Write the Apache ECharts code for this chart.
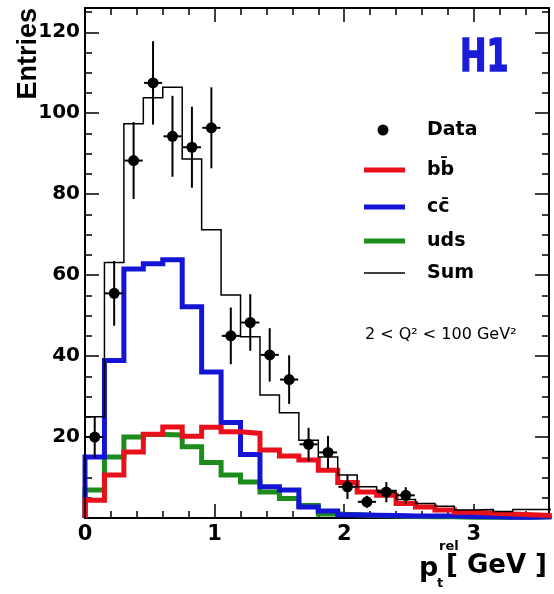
<!DOCTYPE html>
<html lang="en">
<head>
    <meta charset="UTF-8">
    <title>H1 pt rel</title>
    <style>
        html, body { margin: 0; padding: 0; background: #fff; }
        #main { width: 554px; height: 594px; }
    </style>
</head>
<body>
<div id="main"></div>
<script src="https://cdn.jsdelivr.net/npm/echarts@6/dist/echarts.min.js"></script>
<script type="text/javascript">
    // bins of 0.15 GeV starting at 0
    var binWidth = 0.15;
    var bbValues  = [4.4, 10.6, 16.3, 20.7, 22.5, 20.2, 22.4, 21.3, 20.9, 16.8, 15.3, 14.3, 11.8, 8.8, 6.4, 5.6, 3.6, 2.7, 2.0, 1.4, 1.2, 1.0, 0.8, 0.6];
    var ccValues  = [15.1, 38.9, 61.5, 62.8, 63.8, 52.2, 36.1, 23.6, 15.7, 7.7, 6.9, 2.7, 1.7, 0.8, 0.7, 0.6, 0.5, 0.5, 0.5, 0.4, 0.3, 0.2, 0.2, 0.3];
    var udsValues = [6.9, 15.1, 20.0, 20.6, 20.5, 17.6, 13.7, 10.6, 8.9, 6.4, 4.8, 3.1, 1.0, 0.8, 0.6, 0.5, 0.4, 0.3, 0.3, 0.2, 0.2, 0.2, 0.2, 0.3];
    var sumValues = [25.0, 63.1, 97.4, 103.8, 106.4, 88.7, 71.2, 55.1, 44.8, 30.4, 26.0, 19.2, 15.1, 10.6, 7.7, 6.8, 4.6, 3.6, 2.9, 2.0, 2.1, 1.6, 2.1, 2.1];
    var dataValues = [20.0, 55.5, 88.3, 107.5, 94.3, 91.6, 96.4, 45.0, 48.3, 40.3, 34.2, 18.2, 16.2, 7.7, 4.0, 6.4, 5.6];
    var dataErrors = [5.0, 8.0, 9.5, 10.3, 10.0, 10.0, 10.0, 7.0, 7.0, 6.6, 6.0, 4.1, 4.1, 3.0, 1.5, 2.5, 2.0];
    var xTickLabels = ['0', '1', '2', '3'];
    var yTickLabels = ['20', '40', '60', '80', '100', '120'];

    var RED = '#e8101a', BLUE = '#1414d4', GREEN = '#1c8c1c';
    var FONT = 'DejaVu Sans';

    // step line needs the left edges plus a closing point
    function histo(vals) {
        var out = [[0, 0]];
        for (var i = 0; i < vals.length; i++) {
            out.push([i * binWidth, vals[i]]);
        }
        out.push([vals.length * binWidth, vals[vals.length - 1]]);
        return out;
    }

    var points = [];
    for (var i = 0; i < dataValues.length; i++) {
        points.push([(i + 0.5) * binWidth, dataValues[i], dataErrors[i]]);
    }

    function renderPoint(params, api) {
        var x = api.value(0), y = api.value(1), e = api.value(2);
        var c = api.coord([x, y]);
        var top = api.coord([x, y + e]);
        var bot = api.coord([x, Math.max(0, y - e)]);
        var l = api.coord([x - 0.07, y]);
        var r = api.coord([x + 0.07, y]);
        var st = {stroke: '#000', lineWidth: 2};
        return {
            type: 'group',
            children: [
                {type: 'line', shape: {x1: c[0], y1: top[1], x2: c[0], y2: bot[1]}, style: st},
                {type: 'line', shape: {x1: l[0], y1: c[1], x2: r[0], y2: c[1]}, style: st},
                {type: 'circle', shape: {cx: c[0], cy: c[1], r: 5.5}, style: {fill: '#000'}}
            ]
        };
    }

    function stepSeries(name, vals, color, width, z) {
        return {
            name: name,
            type: 'line',
            step: 'end',
            data: histo(vals),
            symbol: 'none',
            z: z,
            silent: true,
            animation: false,
            lineStyle: {color: color, width: width, cap: 'butt', join: 'miter'}
        };
    }

    var X_MAX = 3.58, Y_MAX = 126;
    var tickStyle = {color: '#000', width: 1.5};

    function xAx(pos, interval, len, showLine, showLabel) {
        return {
            type: 'value', position: pos, min: 0, max: X_MAX, interval: interval,
            axisLine: {show: showLine, onZero: false, lineStyle: {color: '#000', width: 2}},
            axisTick: {show: true, inside: true, length: len, lineStyle: tickStyle},
            axisLabel: {
                show: showLabel, margin: 6, color: '#000',
                fontFamily: FONT, fontWeight: 'bold', fontSize: 21,
                formatter: function (v) { return Number.isInteger(v) ? xTickLabels[v] : ''; }
            },
            splitLine: {show: false}
        };
    }

    function yAx(pos, interval, len, showLine, showLabel) {
        return {
            type: 'value', position: pos, min: 0, max: Y_MAX, interval: interval,
            axisLine: {show: showLine, onZero: false, lineStyle: {color: '#000', width: 2}},
            axisTick: {show: true, inside: true, length: len, lineStyle: tickStyle},
            axisLabel: {
                show: showLabel, margin: 5, color: '#000',
                fontFamily: FONT, fontWeight: 'bold', fontSize: 20,
                formatter: function (v) {
                    return (v > 0 && v % 20 === 0) ? yTickLabels[v / 20 - 1] : '';
                }
            },
            splitLine: {show: false}
        };
    }

    var legendRows = [
        {y: 170, text: 'bb\u0304', color: RED, w: 5},
        {y: 207, text: 'cc\u0304', color: BLUE, w: 5},
        {y: 241, text: 'uds', color: GREEN, w: 5},
        {y: 273, text: 'Sum', color: '#000', w: 1.5}
    ];
    var graphics = [
        {type: 'circle', shape: {cx: 383, cy: 130, r: 5.5}, style: {fill: '#000'}},
        {type: 'text', x: 427, y: 130, style: {text: 'Data', font: 'bold 19px ' + FONT, fill: '#000', textVerticalAlign: 'middle'}}
    ];
    legendRows.forEach(function (r) {
        graphics.push({type: 'line', shape: {x1: 364, y1: r.y, x2: 405, y2: r.y}, style: {stroke: r.color, lineWidth: r.w}});
        graphics.push({type: 'text', x: 427, y: r.y, style: {text: r.text, font: 'bold 19px ' + FONT, fill: '#000', textVerticalAlign: 'middle'}});
    });
    graphics.push(
        {type: 'text', x: 365, y: 335, style: {text: '2 < Q\u00b2 < 100 GeV\u00b2', font: '16px ' + FONT, fill: '#000', textVerticalAlign: 'middle'}},
        {type: 'text', x: 460, y: 60, scaleX: 0.72, style: {text: 'H1', font: 'bold 44px ' + FONT, fill: '#1a1ad8', stroke: '#1a1ad8', lineWidth: 1.5, textVerticalAlign: 'middle'}},
        {type: 'text', x: 15, y: 8, rotation: Math.PI / 2, style: {text: 'Entries', font: 'bold 27px "Liberation Sans"', fill: '#000', textAlign: 'right', textVerticalAlign: 'top'}},
        {type: 'text', x: 419, y: 569, style: {text: 'p', font: 'bold 27px ' + FONT, fill: '#000', textVerticalAlign: 'middle'}},
        {type: 'text', x: 439, y: 547, style: {text: 'rel', font: 'bold 13px ' + FONT, fill: '#000', textVerticalAlign: 'middle'}},
        {type: 'text', x: 437, y: 584, style: {text: 't', font: 'bold 13px ' + FONT, fill: '#000', textVerticalAlign: 'middle'}},
        {type: 'text', x: 446, y: 566, style: {text: '[ GeV ]', font: 'bold 26px ' + FONT, fill: '#000', textVerticalAlign: 'middle'}}
    );

    var chart = echarts.init(document.getElementById('main'));
    var option = {
        backgroundColor: '#fff',
        animation: false,
        grid: {left: 85, right: 5, top: 8, bottom: 76, containLabel: false},
        xAxis: [
            xAx('bottom', 1, 14, true, true),
            xAx('bottom', 0.2, 7, false, false),
            xAx('top', 1, 14, true, false),
            xAx('top', 0.2, 7, false, false)
        ],
        yAxis: [
            yAx('left', 20, 14, true, true),
            yAx('left', 5, 7, false, false),
            yAx('right', 20, 14, true, false),
            yAx('right', 5, 7, false, false)
        ],
        series: [
            stepSeries('uds', udsValues, GREEN, 5, 2),
            stepSeries('cc', ccValues, BLUE, 5, 3),
            stepSeries('bb', bbValues, RED, 5, 4),
            stepSeries('Sum', sumValues, '#000', 1.5, 5),
            {
                name: 'Data',
                type: 'custom',
                renderItem: renderPoint,
                data: points,
                z: 6,
                silent: true,
                encode: {x: 0, y: 1}
            }
        ],
        graphic: graphics
    };
    chart.setOption(option);
</script>
</body>
</html>
